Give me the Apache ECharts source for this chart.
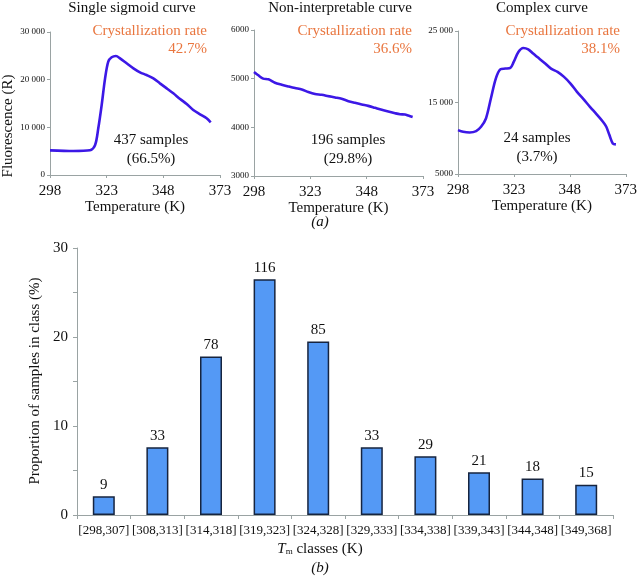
<!DOCTYPE html>
<html>
<head>
<meta charset="utf-8">
<script src="https://cdn.jsdelivr.net/npm/echarts@6/dist/echarts.min.js"></script>
<style>
html,body{margin:0;padding:0;background:#fff;}
#c{width:640px;height:576px;}
</style>
</head>
<body>
<div id="c"></div>
<script>
// ---- Data ----
const tempTicks = [298, 323, 348, 373];

const sigmoidTemps = [298, 308.3, 315.6, 317.9, 319.3, 320.8, 322.3, 323.7, 325.2, 327.1, 328.9, 331.8, 334.8, 337.7, 340.6, 343.6, 346.5, 349.5, 352.4, 355.4, 358.3, 361.2, 364.2, 367.1, 368.9];
const sigmoidValues = [5175, 5035, 5175, 6290, 9790, 14685, 20280, 23780, 24690, 24965, 24475, 23430, 22380, 21540, 20980, 20280, 19230, 18180, 17130, 15945, 14895, 13635, 12730, 11890, 11050];

const nonInterpTemps = [298, 299.9, 302.1, 304.4, 307.3, 310.3, 313.2, 316.2, 319.2, 322.1, 325.1, 328, 331, 334, 336.9, 339.9, 342.8, 345.8, 348.7, 351.7, 354.7, 357.6, 360.6, 362.8, 365, 366.5, 368.4];
const nonInterpValues = [5138, 5069, 5000, 4986, 4917, 4876, 4841, 4807, 4779, 4724, 4683, 4669, 4641, 4614, 4586, 4538, 4503, 4469, 4441, 4400, 4359, 4324, 4290, 4269, 4262, 4241, 4214];

const complexTemps = [298, 300.3, 303.2, 306.1, 308.3, 310.5, 312.7, 314.9, 317, 319.2, 321.4, 322.9, 325, 327.2, 329.4, 331.6, 333.8, 336.7, 339.6, 342.5, 345.4, 348.3, 351.2, 354.1, 357, 359.9, 362.8, 364.3, 365.7, 367.2, 368.6];
const complexValues = [11140, 10907, 10814, 11000, 11605, 12767, 15558, 18349, 19651, 19744, 19837, 20674, 22070, 22628, 22442, 21837, 21279, 20535, 19744, 19279, 18581, 17651, 16488, 15465, 14395, 13372, 12302, 11605, 10442, 9279, 9140];

const tmClasses = ['[298,307]', '[308,313]', '[314,318]', '[319,323]', '[324,328]', '[329,333]', '[334,338]', '[339,343]', '[344,348]', '[349,368]'];
const classCounts = [9, 33, 78, 116, 85, 33, 29, 21, 18, 15];
const classPercents = [2.1, 7.6, 17.8, 26.5, 19.5, 7.6, 6.6, 4.8, 4.1, 3.4];

const panelTitles = ['Single sigmoid curve', 'Non-interpretable curve', 'Complex curve'];
const crystRates = ['42.7%', '36.6%', '38.1%'];
const sampleCounts = ['437 samples', '196 samples', '24 samples'];
const samplePercents = ['(66.5%)', '(29.8%)', '(3.7%)'];

// ---- Styling ----
const FONT = '"Liberation Serif", "Times New Roman", serif';
const AXIS_COLOR = '#9aa3a3';
const LINE_COLOR = '#3c18e6';
const ORANGE = '#e9763f';

function pairs(xs, ys){ return xs.map((x,i)=>[x, ys[i]]); }
function fmtK(v){ return v >= 10000 ? String(v).replace(/(\d)(?=(\d{3})+$)/, '$1 ') : String(v); }

const grids = [
  {left: 50, top: 32, width: 170, height: 143},
  {left: 254, top: 30, width: 169, height: 146},
  {left: 458, top: 31, width: 172, height: 143},
  {left: 77, top: 248, width: 536, height: 267}
];

function tempXAxis(idx){
  return {
    type: 'value', gridIndex: idx, min: 298, max: 373,
    axisLine: {lineStyle: {color: AXIS_COLOR, width: 1}},
    axisTick: {show: true, length: 3, customValues: tempTicks, lineStyle: {color: AXIS_COLOR}},
    axisLabel: {customValues: tempTicks, color: '#111', fontFamily: FONT, fontSize: 15, margin: 9},
    splitLine: {show: false},
    name: 'Temperature (K)', nameLocation: 'middle', nameGap: 23,
    nameTextStyle: {color: '#111', fontFamily: FONT, fontSize: 15, verticalAlign: 'top'}
  };
}
function fluoYAxis(idx, min, max, vals){
  return {
    type: 'value', gridIndex: idx, min: min, max: max,
    axisLine: {show: true, lineStyle: {color: AXIS_COLOR, width: 1}},
    axisTick: {show: true, length: 3, customValues: vals, lineStyle: {color: AXIS_COLOR}},
    axisLabel: {customValues: vals, formatter: fmtK, color: '#111', fontFamily: FONT, fontSize: 9, margin: 5},
    splitLine: {show: false}
  };
}

const lineSeries = (idx, data) => ({
  type: 'line', xAxisIndex: idx, yAxisIndex: idx, data: data,
  smooth: 0.3, showSymbol: false, symbol: 'none',
  lineStyle: {color: LINE_COLOR, width: 2.6}, animation: false
});

const graphics = [];
const centersX = [132, 340, 542];
const rightX = [207, 412, 620];
const sampleX = [151, 348, 537];
const sampleY = [140, 140, 138];
for (let i = 0; i < 3; i++){
  graphics.push({type:'text', x: centersX[i], y: 8, style:{text: panelTitles[i], font: '15px ' + FONT, fill:'#111', textAlign:'center', textVerticalAlign:'middle'}});
  graphics.push({type:'text', x: rightX[i], y: 31, style:{text: 'Crystallization rate', font: '15px ' + FONT, fill: ORANGE, textAlign:'right', textVerticalAlign:'middle'}});
  graphics.push({type:'text', x: rightX[i], y: 49, style:{text: crystRates[i], font: '15px ' + FONT, fill: ORANGE, textAlign:'right', textVerticalAlign:'middle'}});
  graphics.push({type:'text', x: sampleX[i], y: sampleY[i], style:{text: sampleCounts[i], font: '15px ' + FONT, fill:'#111', textAlign:'center', textVerticalAlign:'middle'}});
  graphics.push({type:'text', x: sampleX[i], y: sampleY[i] + 19, style:{text: samplePercents[i], font: '15px ' + FONT, fill:'#111', textAlign:'center', textVerticalAlign:'middle'}});
}
graphics.push({type:'text', x: 8, y: 126, rotation: Math.PI/2, style:{text: 'Fluorescence (R)', font: '15px ' + FONT, fill:'#111', textAlign:'center', textVerticalAlign:'middle'}});
graphics.push({type:'text', x: 320, y: 222, style:{text: '(a)', font: 'italic 15px ' + FONT, fill:'#111', textAlign:'center', textVerticalAlign:'middle'}});
graphics.push({type:'text', x: 35, y: 381, rotation: Math.PI/2, style:{text: 'Proportion of samples in class (%)', font: '15px ' + FONT, fill:'#111', textAlign:'center', textVerticalAlign:'middle'}});
graphics.push({type:'text', x: 320, y: 549, style:{
  text: '{i|T}{s|m}{n| classes (K)}', textAlign:'center', textVerticalAlign:'middle',
  rich: {i:{font: 'italic 15px ' + FONT, fill:'#111'}, s:{font: '9px ' + FONT, fill:'#111', verticalAlign:'bottom', padding:[6,0,0,0]}, n:{font: '15px ' + FONT, fill:'#111'}}
}});
graphics.push({type:'text', x: 320, y: 568, style:{text: '(b)', font: 'italic 15px ' + FONT, fill:'#111', textAlign:'center', textVerticalAlign:'middle'}});

const option = {
  animation: false,
  backgroundColor: '#fff',
  grid: grids,
  xAxis: [
    tempXAxis(0), tempXAxis(1), tempXAxis(2),
    {
      type: 'category', gridIndex: 3, data: tmClasses,
      axisLine: {lineStyle: {color: AXIS_COLOR, width: 1}},
      axisTick: {show: true, length: 4, lineStyle: {color: AXIS_COLOR}},
      axisLabel: {color: '#111', fontFamily: FONT, fontSize: 13, margin: 9, interval: 0}
    }
  ],
  yAxis: [
    fluoYAxis(0, 0, 30000, [0, 10000, 20000, 30000]),
    fluoYAxis(1, 3000, 6000, [3000, 4000, 5000, 6000]),
    fluoYAxis(2, 5000, 25000, [5000, 15000, 25000]),
    {
      type: 'value', gridIndex: 3, min: 0, max: 30, interval: 5,
      axisLine: {show: true, lineStyle: {color: AXIS_COLOR, width: 1}},
      axisTick: {show: true, length: 4, lineStyle: {color: AXIS_COLOR}},
      axisLabel: {customValues: [0, 10, 20, 30], color: '#111', fontFamily: FONT, fontSize: 15, margin: 9},
      splitLine: {show: false}
    }
  ],
  series: [
    lineSeries(0, pairs(sigmoidTemps, sigmoidValues)),
    lineSeries(1, pairs(nonInterpTemps, nonInterpValues)),
    lineSeries(2, pairs(complexTemps, complexValues)),
    {
      type: 'bar', xAxisIndex: 3, yAxisIndex: 3,
      data: classPercents, barWidth: 22,
      itemStyle: {color: '#5499f5', borderColor: '#16243f', borderWidth: 1.5},
      label: {
        show: true, position: 'top', distance: 4, color: '#111', fontFamily: FONT, fontSize: 15,
        formatter: p => String(classCounts[p.dataIndex])
      }
    }
  ],
  graphic: graphics
};

const chart = echarts.init(document.getElementById('c'), null, {renderer: 'canvas'});
chart.setOption(option);
</script>
</body>
</html>
